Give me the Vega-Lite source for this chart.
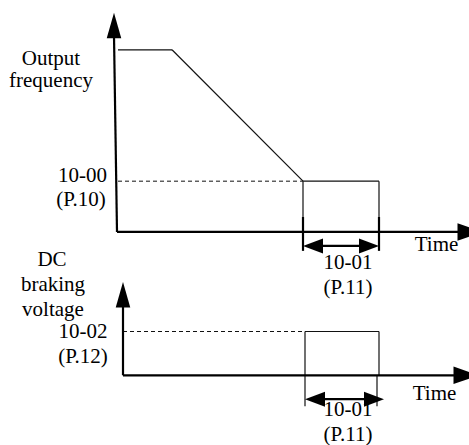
{
  "$schema": "https://vega.github.io/schema/vega-lite/v6.json",
  "width": 469,
  "height": 445,
  "autosize": {"type": "fit", "contains": "padding"},
  "padding": 0,
  "background": "white",
  "config": {"view": {"stroke": null}},
  "datasets": {
    "lines": [
      {"x": 118, "y": 50, "x2": 172, "y2": 50, "kind": "thin"},
      {"x": 172, "y": 50, "x2": 303, "y2": 182, "kind": "thin"},
      {"x": 303, "y": 182, "x2": 379, "y2": 182, "kind": "thin"},
      {"x": 303, "y": 182, "x2": 303, "y2": 233, "kind": "thin"},
      {"x": 379, "y": 182, "x2": 379, "y2": 233, "kind": "thin"},
      {"x": 118, "y": 182, "x2": 303, "y2": 182, "kind": "dashed"},
      {"x": 114, "y": 36, "x2": 117, "y2": 233, "kind": "thick"},
      {"x": 117, "y": 233, "x2": 462, "y2": 233, "kind": "thick"},
      {"x": 303, "y": 218, "x2": 303, "y2": 252, "kind": "thick"},
      {"x": 379, "y": 218, "x2": 379, "y2": 252, "kind": "thick"},
      {"x": 312, "y": 247, "x2": 370, "y2": 247, "kind": "thick"},
      {"x": 305, "y": 333, "x2": 379, "y2": 333, "kind": "thin"},
      {"x": 305, "y": 333, "x2": 305, "y2": 377, "kind": "thin"},
      {"x": 379, "y": 333, "x2": 379, "y2": 377, "kind": "thin"},
      {"x": 123, "y": 333, "x2": 305, "y2": 333, "kind": "dashed"},
      {"x": 123, "y": 307, "x2": 123, "y2": 377, "kind": "thick"},
      {"x": 123, "y": 377, "x2": 455, "y2": 377, "kind": "thick"},
      {"x": 305, "y": 377, "x2": 305, "y2": 408, "kind": "thin"},
      {"x": 377, "y": 377, "x2": 377, "y2": 408, "kind": "thin"},
      {"x": 314, "y": 401, "x2": 376, "y2": 401, "kind": "thick"}
    ],
    "arrows": [
      {"x": 114, "y": 25.5, "dir": "up"},
      {"x": 123, "y": 296, "dir": "up"},
      {"x": 470, "y": 233, "dir": "axisright"},
      {"x": 466, "y": 377, "dir": "axisright"},
      {"x": 313, "y": 247, "dir": "left"},
      {"x": 369, "y": 247, "dir": "right"},
      {"x": 315, "y": 401, "dir": "left"},
      {"x": 374, "y": 401, "dir": "right"}
    ],
    "labels": [
      {"x": 51, "y": 65, "text": "Output"},
      {"x": 51, "y": 87, "text": "frequency"},
      {"x": 82.5, "y": 183, "text": "10-00"},
      {"x": 81, "y": 207, "text": "(P.10)"},
      {"x": 348, "y": 270, "text": "10-01"},
      {"x": 348, "y": 295, "text": "(P.11)"},
      {"x": 436.5, "y": 252, "text": "Time"},
      {"x": 52, "y": 267, "text": "DC"},
      {"x": 53, "y": 292, "text": "braking"},
      {"x": 53, "y": 317, "text": "voltage"},
      {"x": 83, "y": 340, "text": "10-02"},
      {"x": 83, "y": 365, "text": "(P.12)"},
      {"x": 348, "y": 418, "text": "10-01"},
      {"x": 348, "y": 443, "text": "(P.11)"},
      {"x": 434.5, "y": 402, "text": "Time"}
    ]
  },
  "encoding": {
    "x": {"field": "x", "type": "quantitative", "axis": null, "scale": {"domain": [0, 469], "nice": false, "zero": false}},
    "y": {"field": "y", "type": "quantitative", "axis": null, "scale": {"domain": [0, 445], "nice": false, "zero": false, "reverse": true}}
  },
  "layer": [
    {
      "data": {"name": "lines"},
      "transform": [{"filter": "datum.kind == 'thin'"}],
      "mark": {"type": "rule", "color": "#111", "strokeWidth": 1.2},
      "encoding": {"x2": {"field": "x2"}, "y2": {"field": "y2"}}
    },
    {
      "data": {"name": "lines"},
      "transform": [{"filter": "datum.kind == 'dashed'"}],
      "mark": {"type": "rule", "color": "#111", "strokeWidth": 1, "strokeDash": [4, 3]},
      "encoding": {"x2": {"field": "x2"}, "y2": {"field": "y2"}}
    },
    {
      "data": {"name": "lines"},
      "transform": [{"filter": "datum.kind == 'thick'"}],
      "mark": {"type": "rule", "color": "#000", "strokeWidth": 2.2},
      "encoding": {"x2": {"field": "x2"}, "y2": {"field": "y2"}}
    },
    {
      "data": {"name": "arrows"},
      "transform": [{"filter": "datum.dir == 'up'"}],
      "mark": {"type": "point", "filled": true, "color": "#000", "opacity": 1, "size": 650, "shape": "M0,-1 L0.57,1 L-0.57,1 Z"}
    },
    {
      "data": {"name": "arrows"},
      "transform": [{"filter": "datum.dir == 'axisright'"}],
      "mark": {"type": "point", "filled": true, "color": "#000", "opacity": 1, "size": 625, "clip": true, "shape": "M1,0 L-1,-0.7 L-1,0.7 Z"}
    },
    {
      "data": {"name": "arrows"},
      "transform": [{"filter": "datum.dir == 'left'"}],
      "mark": {"type": "point", "filled": true, "color": "#000", "opacity": 1, "size": 400, "shape": "M-1,0 L1,-0.75 L1,0.75 Z"}
    },
    {
      "data": {"name": "arrows"},
      "transform": [{"filter": "datum.dir == 'right'"}],
      "mark": {"type": "point", "filled": true, "color": "#000", "opacity": 1, "size": 400, "shape": "M1,0 L-1,-0.75 L-1,0.75 Z"}
    },
    {
      "data": {"name": "labels"},
      "mark": {"type": "text", "font": "Liberation Serif", "fontSize": 21, "color": "#000", "align": "center", "baseline": "alphabetic"},
      "encoding": {"text": {"field": "text"}}
    }
  ]
}
